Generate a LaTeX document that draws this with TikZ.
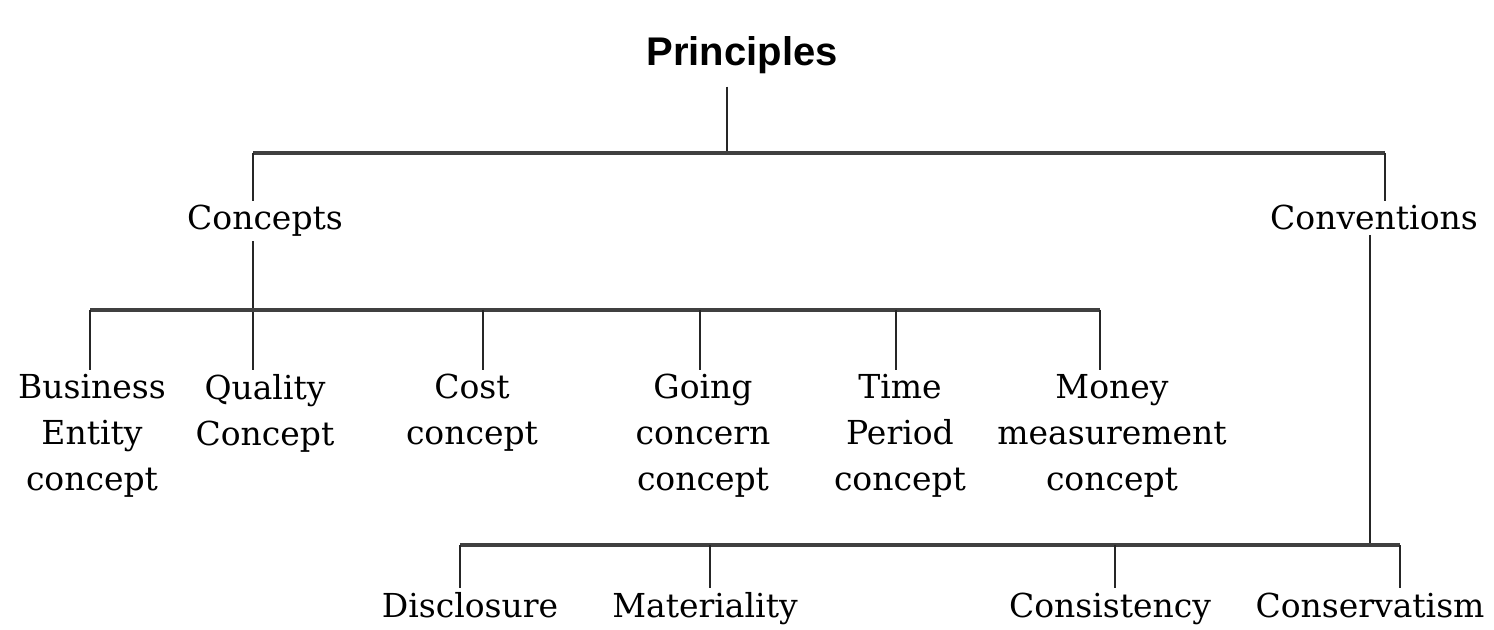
\documentclass[tikz,border=0pt]{standalone}
\usepackage{fontspec}
\setmainfont{DejaVu Serif}
\newfontfamily\headfont{Liberation Sans}
\begin{document}
\begin{tikzpicture}[x=0.5pt,y=-0.5pt,
  lbl/.style={font=\fontsize{16.5}{23}\selectfont, align=center, inner sep=2pt},
  top/.style={lbl, anchor=north},
  one/.style={lbl, anchor=base},
  head/.style={font=\headfont\bfseries\fontsize{20}{23}\selectfont, inner sep=6pt, anchor=base},
  wire/.style={line width=1.1pt, black!85},
  bar/.style={line width=1.8pt, black!75}]
\useasboundingbox (0,0) rectangle (1494,630);
% nodes
\node[head] (P) at (742,66) {Principles};
\node[one] (Cp) at (265,230) {Concepts};
\node[one] (Cv) at (1374,230) {Conventions};
\node[top] (BE) at (92,370) {Business\\Entity\\concept};
\node[top] (QC) at (265,370) {Quality\\Concept};
\node[top] (CC) at (472,370) {Cost\\concept};
\node[top] (GC) at (703,370) {Going\\concern\\concept};
\node[top] (TP) at (900,370) {Time\\Period\\concept};
\node[top] (MM) at (1112,370) {Money\\measurement\\concept};
\node[one] (Di) at (470,617) {Disclosure};
\node[one] (Ma) at (705,617) {Materiality};
\node[one] (Cs) at (1110,617) {Consistency};
\node[one] (Co) at (1370,617) {Conservatism};
% junction coordinates
\coordinate (a1) at (253,153);
\coordinate (a2) at (1385,153);
\coordinate (pj) at (727,153);
\coordinate (b1) at (90,310);
\coordinate (b2) at (1100,310);
\coordinate (bq) at (253,310);
\coordinate (bc) at (483,310);
\coordinate (bg) at (700,310);
\coordinate (bt) at (896,310);
\coordinate (c1) at (460,545);
\coordinate (c2) at (1400,545);
\coordinate (cv) at (1370,545);
\coordinate (cm) at (710,545);
\coordinate (cs) at (1115,545);
% level 1
\draw[wire] (P.south -| pj) -- (pj);
\draw[bar] (a1) -- (a2);
\draw[wire] (a1) -- (Cp.north -| a1);
\draw[wire] (a2) -- (Cv.north -| a2);
% concepts
\draw[wire] (Cp.south -| a1) -- (QC.north -| a1);
\draw[bar] (b1) -- (b2);
\draw[wire] (b1) -- (BE.north -| b1);
\draw[wire] (bc) -- (CC.north -| bc);
\draw[wire] (bg) -- (GC.north -| bg);
\draw[wire] (bt) -- (TP.north -| bt);
\draw[wire] (b2) -- (MM.north -| b2);
% conventions
\draw[wire] (Cv.south -| cv) -- (cv);
\draw[bar] (c1) -- (c2);
\draw[wire] (c1) -- (Di.north -| c1);
\draw[wire] (cm) -- (Ma.north -| cm);
\draw[wire] (cs) -- (Cs.north -| cs);
\draw[wire] (c2) -- (Co.north -| c2);
\end{tikzpicture}
\end{document}
